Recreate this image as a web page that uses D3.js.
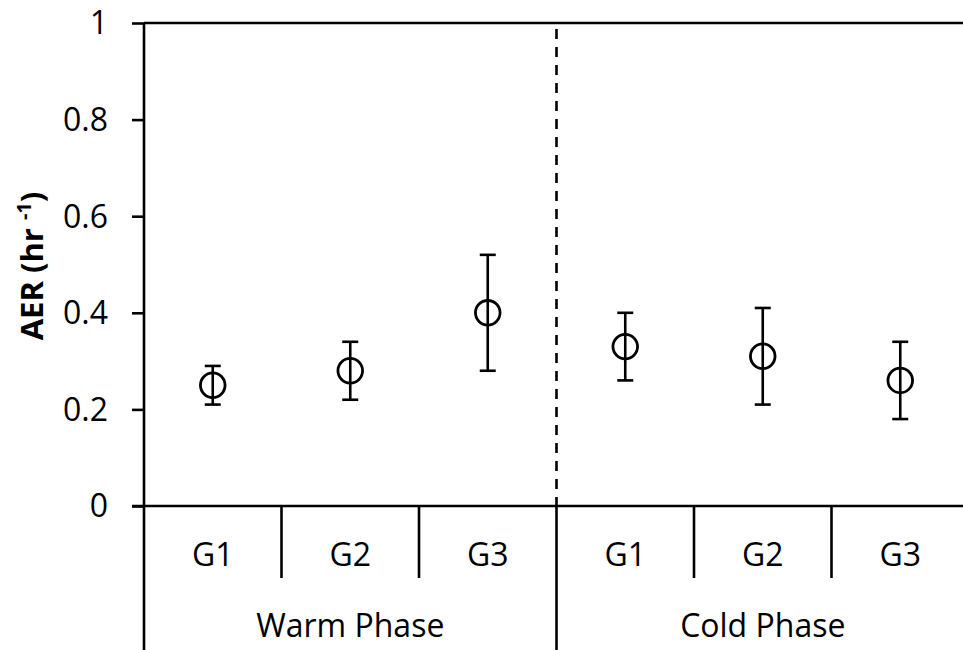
<!DOCTYPE html>
<html><head><meta charset="utf-8">
<script src="https://cdn.jsdelivr.net/npm/d3@7"></script>
<style>body{margin:0;background:#fff}svg{display:block}text{font-family:"Open Sans",sans-serif;fill:#000}</style>
</head><body><svg id="c" width="963" height="650"></svg>
<script>
const phases = ["Warm Phase", "Cold Phase"];
const groups = ["G1", "G2", "G3"];
const means = [0.25, 0.28, 0.40, 0.33, 0.31, 0.26];
const upper = [0.29, 0.34, 0.52, 0.40, 0.41, 0.34];
const lower = [0.21, 0.22, 0.28, 0.26, 0.21, 0.18];
const yTicks = [0, 0.2, 0.4, 0.6, 0.8, 1];
const yTickLabels = ["0", "0.2", "0.4", "0.6", "0.8", "1"];

const keys = [];
phases.forEach((p, i) => groups.forEach(g => keys.push(p + "|" + g)));
const data = keys.map((k, i) => ({key: k, phase: k.split("|")[0], group: k.split("|")[1], m: means[i], hi: upper[i], lo: lower[i]}));

const svg = d3.select("#c");
const L = 144, R = 969, T = 23, B = 506;
const x = d3.scaleBand().domain(keys).range([L, R]).padding(0);
const xp = d3.scaleBand().domain(phases).range([L, R]).padding(0);
const y = d3.scaleLinear().domain([0, 1]).range([B, T]);
const sw = 2.6;

// y axis
const ya = svg.append("g").attr("transform", `translate(${L},0)`)
  .call(d3.axisLeft(y).tickValues(yTicks).tickFormat((d, i) => yTickLabels[i]).tickSize(12).tickPadding(24));
ya.select(".domain").remove();
ya.selectAll("line").attr("stroke", "#000").attr("stroke-width", sw);
ya.selectAll("text").attr("font-size", 32).style("font-family", "'Open Sans',sans-serif").attr("dy", "0.34em");

// frame lines
svg.append("line").attr("x1", L).attr("x2", L).attr("y1", T).attr("y2", 660).attr("stroke", "#000").attr("stroke-width", sw);
svg.append("line").attr("x1", L).attr("x2", R).attr("y1", T).attr("y2", T).attr("stroke", "#000").attr("stroke-width", sw);
svg.append("line").attr("x1", L - 12).attr("x2", R).attr("y1", B).attr("y2", B).attr("stroke", "#000").attr("stroke-width", sw);

// dashed divider
const divX = xp("Cold Phase");
svg.append("line").attr("x1", divX).attr("x2", divX).attr("y1", T + 6).attr("y2", B)
  .attr("stroke", "#000").attr("stroke-width", sw).attr("stroke-dasharray", "10,8");

// category separators
keys.forEach((k, i) => {
  if (i === 0) return;
  const xx = x(k);
  const isPhase = groups.indexOf(k.split("|")[1]) === 0;
  svg.append("line").attr("x1", xx).attr("x2", xx).attr("y1", B).attr("y2", isPhase ? 660 : 578)
    .attr("stroke", "#000").attr("stroke-width", sw);
});

// category labels
svg.selectAll("text.g").data(data).enter().append("text").attr("class", "g")
  .attr("x", d => x(d.key) + x.bandwidth() / 2).attr("y", 566)
  .attr("text-anchor", "middle").attr("font-size", 32).text(d => d.group);
svg.selectAll("text.p").data(phases).enter().append("text").attr("class", "p")
  .attr("x", d => xp(d) + xp.bandwidth() / 2).attr("y", 637)
  .attr("text-anchor", "middle").attr("font-size", 32).text(d => d);

// y label
const yl = svg.append("text").attr("transform", "translate(43,266) rotate(-90)")
  .attr("text-anchor", "middle").attr("font-size", 31).attr("font-weight", "bold");
yl.append("tspan").text("AER (hr ");
yl.append("tspan").attr("font-size", 20).attr("dy", -12).text("-1");
yl.append("tspan").attr("dy", 12).text(")");

// error bars
const cx = d => x(d.key) + x.bandwidth() / 2;
const eb = svg.append("g").attr("stroke", "#000").attr("stroke-width", sw).attr("fill", "none");
data.forEach(d => {
  eb.append("line").attr("x1", cx(d)).attr("x2", cx(d)).attr("y1", y(d.hi)).attr("y2", y(d.lo));
  eb.append("line").attr("x1", cx(d) - 8).attr("x2", cx(d) + 8).attr("y1", y(d.hi)).attr("y2", y(d.hi));
  eb.append("line").attr("x1", cx(d) - 8).attr("x2", cx(d) + 8).attr("y1", y(d.lo)).attr("y2", y(d.lo));
});
svg.append("g").selectAll("circle").data(data).enter().append("circle")
  .attr("cx", cx).attr("cy", d => y(d.m)).attr("r", 12.3)
  .attr("fill", "none").attr("stroke", "#000").attr("stroke-width", sw + 0.2);
</script></body></html>
